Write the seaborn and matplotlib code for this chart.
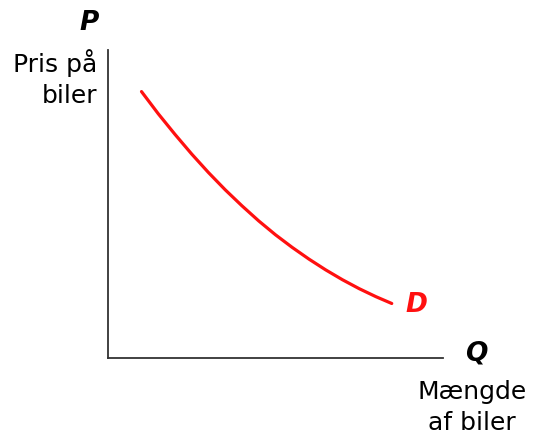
import seaborn as sns
import matplotlib.pyplot as plt
import pandas as pd

# demand curve (axes run 0..10 on both sides)
quantity = [1.0, 1.5, 2.0, 2.5, 3.0, 3.5, 4.0, 4.5, 5.0, 5.5, 6.0, 6.5, 7.0, 7.5, 8.0, 8.47]
price = [8.65, 7.93, 7.26, 6.62, 6.02, 5.46, 4.94, 4.45, 4.00, 3.59, 3.21, 2.86, 2.54, 2.25, 1.99, 1.77]

W, H = 535, 444


def main():
    sns.set_style("white")
    plt.rcParams['font.family'] = ['DejaVu Sans']

    data = pd.DataFrame({'Q': quantity, 'P': price})

    fig = plt.figure(figsize=(W / 100, H / 100), dpi=100)
    ax = fig.add_axes([108 / W, 1 - 358 / H, 335 / W, 308 / H])

    sns.lineplot(data=data, x='Q', y='P', color='#ff1010', linewidth=2.3, ax=ax)

    ax.set_xlim(0, 10)
    ax.set_ylim(0, 10)
    ax.set_xticks([])
    ax.set_yticks([])
    ax.set_xlabel('')
    ax.set_ylabel('')
    for side in ['top', 'right']:
        ax.spines[side].set_visible(False)
    for side in ['left', 'bottom']:
        ax.spines[side].set_color('#333333')
        ax.spines[side].set_linewidth(1.3)

    def px(x, y):
        return x / W, 1 - y / H

    fig.text(*px(89, 23), 'P', fontsize=19, fontweight='heavy', fontstyle='italic',
             color='black', ha='center', va='center')
    fig.text(*px(97, 63), 'Pris på', fontsize=18, color='black', ha='right', va='center')
    fig.text(*px(97, 96), 'biler', fontsize=18, color='black', ha='right', va='center')

    fig.text(*px(476, 353), 'Q', fontsize=19, fontweight='heavy', fontstyle='italic',
             color='black', ha='center', va='center')
    fig.text(*px(472, 392), 'Mængde', fontsize=18, color='black', ha='center', va='center')
    fig.text(*px(472, 423), 'af biler', fontsize=18, color='black', ha='center', va='center')

    fig.text(*px(416, 305), 'D', fontsize=19, fontweight='heavy', fontstyle='italic',
             color='#ff1010', ha='center', va='center')

    plt.savefig('out.png', dpi=100)


if __name__ == '__main__':
    main()
